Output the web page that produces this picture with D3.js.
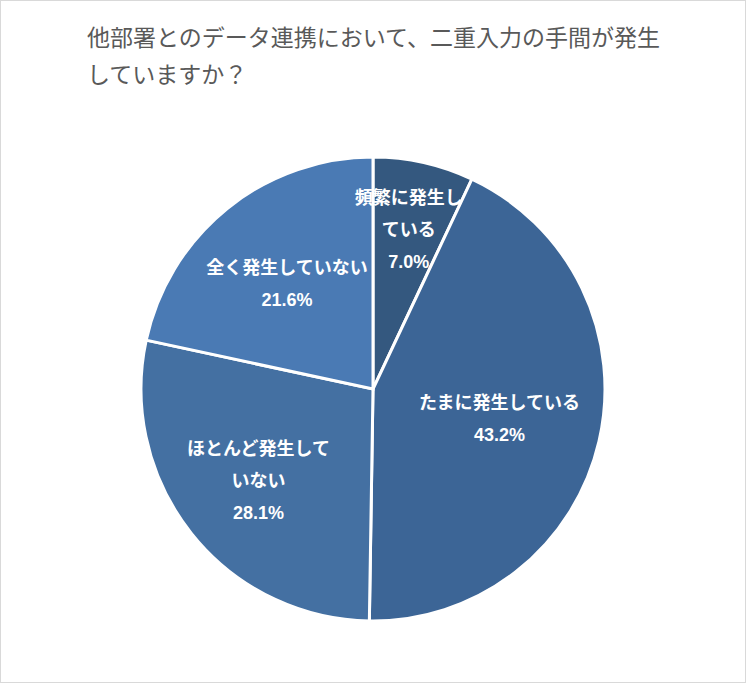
<!DOCTYPE html>
<html lang="ja">
<head>
<meta charset="UTF-8">
<title>二重入力の手間</title>
<script src="https://cdn.jsdelivr.net/npm/d3@7"></script>
<style>
    body { margin: 0; background: #fff; }
    .title { font-family: "Noto Sans CJK JP", sans-serif; font-size: 23px; fill: #595959; }
    .label { font-family: "Noto Sans CJK JP", sans-serif; font-size: 18px; font-weight: bold; fill: #fff; }
    .pct { font-family: "Liberation Sans", Arial, sans-serif; }
</style>
</head>
<body>
<script>
    var width = 746;
    var height = 683;

    // データ
    var categories = ["頻繁に発生している", "たまに発生している", "ほとんど発生していない", "全く発生していない"];
    var values = [7.0, 43.2, 28.1, 21.6];
    var labelLines = [["頻繁に発生し", "ている"], ["たまに発生している"], ["ほとんど発生して", "いない"], ["全く発生していない"]];
    var colors = ["#34587f", "#3c6596", "#4470a2", "#4a7ab4"];
    var titleLines = ["他部署とのデータ連携において、二重入力の手間が発生", "していますか？"];

    var svg = d3.select("body")
        .append("svg")
        .attr("width", width)
        .attr("height", height);

    // 枠
    svg.append("rect")
        .attr("x", 0.5).attr("y", 0.5)
        .attr("width", width - 1).attr("height", height - 1)
        .attr("fill", "#fff")
        .attr("stroke", "#d9d9d9");

    svg.selectAll("text.title")
        .data(titleLines)
        .enter()
        .append("text")
        .attr("class", "title")
        .attr("x", 87)
        .attr("y", function (d, i) { return 46 + i * 37; })
        .text(function (d) { return d; });

    var cx = 373, cy = 389, r = 232;
    var g = svg.append("g").attr("transform", "translate(" + cx + "," + cy + ")");

    var pie = d3.pie().sort(null).value(function (d) { return d; });
    var arcs = pie(values);
    var arc = d3.arc().innerRadius(0).outerRadius(r);

    g.selectAll("path")
        .data(arcs)
        .enter()
        .append("path")
        .attr("d", arc)
        .attr("fill", function (d, i) { return colors[i]; })
        .attr("stroke", "#fff")
        .attr("stroke-width", 3);

    // ラベル位置（中心からの距離の比率）
    var labelRadius = [0.705, 0.56, 0.63, 0.59];
    var lineH = 32;

    arcs.forEach(function (d, i) {
        var a = (d.startAngle + d.endAngle) / 2;
        var rr = r * labelRadius[i];
        var x = Math.sin(a) * rr;
        var y = -Math.cos(a) * rr;
        var lines = labelLines[i].concat([values[i].toFixed(1) + "%"]);
        var y0 = y - (lines.length - 1) * lineH / 2;
        var t = g.append("text")
            .attr("class", "label")
            .attr("text-anchor", "middle");
        lines.forEach(function (s, j) {
            t.append("tspan")
                .attr("class", j === lines.length - 1 ? "pct" : null)
                .attr("x", x)
                .attr("y", y0 + j * lineH + 7)
                .text(s);
        });
    });
</script>
</body>
</html>
